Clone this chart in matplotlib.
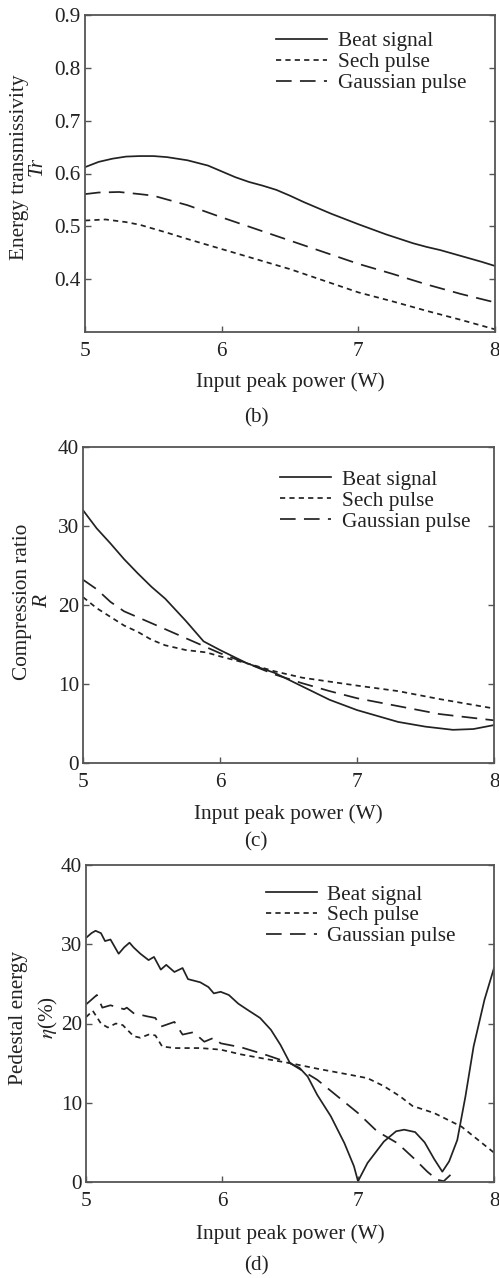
import matplotlib
matplotlib.use("Agg")
import matplotlib.pyplot as plt

plt.rcParams['font.family'] = ['Liberation Serif', 'DejaVu Serif']
plt.rcParams['mathtext.fontset'] = 'stix'

# ---------------- data ----------------
labels = ["Beat signal", "Sech pulse", "Gaussian pulse"]

# (b) energy transmissivity
b_beat_x = [5.0, 5.1, 5.2, 5.3, 5.4, 5.5, 5.6, 5.75, 5.9, 6.0, 6.1, 6.2, 6.3, 6.4, 6.5, 6.6, 6.8, 7.0, 7.2, 7.4, 7.5, 7.6, 7.75, 7.9, 8.0]
b_beat_y = [0.612, 0.622, 0.628, 0.632, 0.633, 0.633, 0.631, 0.625, 0.615, 0.604, 0.593, 0.584, 0.577, 0.569, 0.558, 0.546, 0.524, 0.504, 0.485, 0.468, 0.461, 0.455, 0.444, 0.433, 0.425]
b_sech_x = [5.0, 5.15, 5.3, 5.4, 5.6, 5.75, 6.0, 6.25, 6.5, 6.75, 7.0, 7.25, 7.5, 7.75, 8.0]
b_sech_y = [0.511, 0.513, 0.508, 0.503, 0.488, 0.476, 0.457, 0.438, 0.419, 0.397, 0.375, 0.358, 0.340, 0.323, 0.305]
b_gaus_x = [5.0, 5.1, 5.25, 5.4, 5.5, 5.75, 6.0, 6.25, 6.5, 6.75, 7.0, 7.25, 7.5, 7.75, 8.0]
b_gaus_y = [0.561, 0.564, 0.565, 0.561, 0.558, 0.540, 0.517, 0.495, 0.473, 0.451, 0.429, 0.410, 0.390, 0.372, 0.356]

# (c) compression ratio
c_beat_x = [5.0, 5.1, 5.2, 5.3, 5.4, 5.5, 5.6, 5.75, 5.88, 6.0, 6.2, 6.4, 6.6, 6.8, 7.0, 7.3, 7.5, 7.7, 7.85, 8.0]
c_beat_y = [32.0, 29.7, 27.8, 25.8, 24.0, 22.3, 20.8, 18.0, 15.4, 14.3, 12.6, 11.4, 9.7, 8.0, 6.7, 5.2, 4.6, 4.2, 4.3, 4.8]
c_sech_x = [5.0, 5.1, 5.2, 5.3, 5.4, 5.5, 5.6, 5.75, 5.9, 6.0, 6.2, 6.4, 6.6, 6.8, 7.0, 7.3, 7.6, 8.0]
c_sech_y = [21.0, 19.6, 18.5, 17.4, 16.6, 15.6, 14.9, 14.3, 14.0, 13.5, 12.6, 11.6, 10.8, 10.3, 9.8, 9.1, 8.1, 6.9]
c_gaus_x = [5.0, 5.1, 5.2, 5.3, 5.5, 5.75, 6.0, 6.2, 6.4, 6.6, 6.8, 7.0, 7.3, 7.6, 8.0]
c_gaus_y = [23.2, 22.0, 20.4, 19.2, 17.7, 15.8, 13.9, 12.6, 11.2, 10.1, 9.1, 8.2, 7.2, 6.2, 5.4]

# (d) pedestal energy
d_beat_x = [5.0, 5.04, 5.07, 5.11, 5.14, 5.18, 5.24, 5.28, 5.32, 5.35, 5.40, 5.46, 5.50, 5.55, 5.59, 5.65, 5.71, 5.75, 5.84, 5.90, 5.94, 5.99, 6.05, 6.12, 6.19, 6.28, 6.36, 6.43, 6.50, 6.57, 6.63, 6.70, 6.80, 6.90, 6.97, 7.0, 7.07, 7.19, 7.28, 7.34, 7.42, 7.49, 7.56, 7.62, 7.67, 7.73, 7.79, 7.85, 7.93, 8.0]
d_beat_y = [30.8, 31.4, 31.7, 31.4, 30.4, 30.6, 28.8, 29.6, 30.2, 29.6, 28.8, 28.0, 28.4, 26.8, 27.4, 26.5, 27.0, 25.6, 25.2, 24.6, 23.8, 24.0, 23.6, 22.5, 21.7, 20.7, 19.2, 17.3, 15.0, 14.4, 13.3, 11.0, 8.3, 4.9, 2.0, 0.1, 2.4, 5.1, 6.4, 6.6, 6.3, 5.0, 2.9, 1.3, 2.6, 5.3, 10.8, 17.1, 23.0, 27.0]
d_sech_x = [5.0, 5.05, 5.11, 5.16, 5.22, 5.27, 5.35, 5.40, 5.46, 5.51, 5.56, 5.65, 5.84, 5.99, 6.14, 6.33, 6.50, 6.70, 6.95, 7.07, 7.19, 7.31, 7.40, 7.56, 7.76, 8.0]
d_sech_y = [20.8, 21.6, 20.0, 19.5, 20.0, 19.8, 18.4, 18.2, 18.6, 18.5, 17.1, 16.9, 16.9, 16.7, 16.1, 15.5, 15.0, 14.3, 13.5, 13.1, 12.1, 10.8, 9.6, 8.7, 7.0, 3.7]
d_gaus_x = [5.0, 5.08, 5.12, 5.18, 5.28, 5.30, 5.35, 5.45, 5.51, 5.55, 5.65, 5.71, 5.79, 5.87, 5.94, 5.99, 6.14, 6.33, 6.50, 6.70, 6.85, 7.0, 7.14, 7.29, 7.41, 7.51, 7.58, 7.63, 7.68]
d_gaus_y = [22.4, 23.6, 22.0, 22.3, 21.8, 22.0, 21.3, 20.9, 20.7, 19.6, 20.2, 18.6, 18.9, 17.7, 18.2, 17.5, 17.0, 16.0, 15.0, 12.9, 10.8, 8.7, 6.4, 4.9, 3.0, 1.3, 0.3, 0.1, 0.9]

b_yticks = [0.4, 0.5, 0.6, 0.7, 0.8, 0.9]
c_yticks = [0, 10, 20, 30, 40]
d_yticks = [0, 10, 20, 30, 40]
xticks = [5, 6, 7, 8]

# ---------------- styling ----------------
FS = 15.3
LW = 1.25
INK = '#222222'
SPINE = '#555555'
styles = [dict(ls='-'), dict(ls=(0, (3.0, 2.4))), dict(ls=(0, (9.0, 4.8)))]

fig = plt.figure(figsize=(4.99, 12.78), dpi=100)
W, H = 499.0, 1278.0

def make_ax(left, right, top, bottom):
    return fig.add_axes([left / W, 1 - bottom / H, (right - left) / W, (bottom - top) / H])

axb = make_ax(85, 495, 15, 332)
axc = make_ax(83, 494, 447, 763)
axd = make_ax(86, 494, 865, 1182)

panels = [
    (axb, [(b_beat_x, b_beat_y), (b_sech_x, b_sech_y), (b_gaus_x, b_gaus_y)], (0.3, 0.9), b_yticks, ['0.4', '0.5', '0.6', '0.7', '0.8', '0.9'], 8.5),
    (axc, [(c_beat_x, c_beat_y), (c_sech_x, c_sech_y), (c_gaus_x, c_gaus_y)], (0, 40), c_yticks, None, 9),
    (axd, [(d_beat_x, d_beat_y), (d_sech_x, d_sech_y), (d_gaus_x, d_gaus_y)], (0, 40), d_yticks, None, 10),
]

legend_anchor = [(0.467, 0.948), (0.48, 0.928), (0.44, 0.938)]

for (ax, series, ylim, yt, ytl, lp), anc in zip(panels, legend_anchor):
    for (xs, ys), st, lab in zip(series, styles, labels):
        ax.plot(xs, ys, color=INK, lw=LW, label=lab, **st)
    ax.set_xlim(5, 8)
    ax.set_ylim(*ylim)
    ax.set_xticks(xticks)
    ax.set_yticks(yt)
    if ytl is not None:
        ax.set_yticklabels(ytl)
    ax.tick_params(direction='in', length=4, width=1.0, color=SPINE, labelsize=FS,
                   right=True, top=False, pad=3, labelcolor=INK)
    ax.tick_params(axis='x', pad=7)
    for sp in ax.spines.values():
        sp.set_color(SPINE)
        sp.set_linewidth(1.3)
    ax.set_xlabel('Input peak power (W)', fontsize=FS, color=INK, labelpad=lp)
    ax.legend(loc='upper left', bbox_to_anchor=anc, frameon=False, fontsize=FS,
              handlelength=2.4, handletextpad=0.5, labelspacing=0.05, borderpad=0,
              borderaxespad=0, labelcolor=INK)

# y labels (two lines, placed individually)
fig.text(19.5 / W, 1 - 167 / H, 'Energy transmissivity', rotation=90, ha='center', va='center', fontsize=FS, color=INK)
fig.text(37 / W, 1 - 167 / H, 'Tr', rotation=90, ha='center', va='center', fontsize=FS, style='italic', color=INK)
fig.text(23 / W, 1 - 602 / H, 'Compression ratio', rotation=90, ha='center', va='center', fontsize=FS, color=INK)
fig.text(43 / W, 1 - 602 / H, 'R', rotation=90, ha='center', va='center', fontsize=FS, style='italic', color=INK)
fig.text(19 / W, 1 - 1018 / H, 'Pedestal energy', rotation=90, ha='center', va='center', fontsize=FS, color=INK)
fig.text(48 / W, 1 - 1018 / H, r'$\eta$(%)', rotation=90, ha='center', va='center', fontsize=FS, color=INK)

# sub captions
fig.text(256 / W, 1 - 418 / H, '(b)', ha='center', va='center', fontsize=FS, color=INK)
fig.text(256 / W, 1 - 842 / H, '(c)', ha='center', va='center', fontsize=FS, color=INK)
fig.text(256 / W, 1 - 1266 / H, '(d)', ha='center', va='center', fontsize=FS, color=INK)

fig.savefig('out.png', dpi=100, facecolor='white')
